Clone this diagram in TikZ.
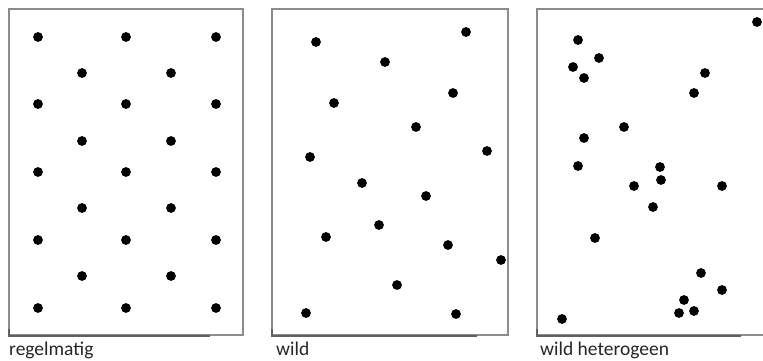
\documentclass[tikz,border=0pt]{standalone}
\usepackage{fontspec}
\setmainfont{Carlito}
\begin{document}
\begin{tikzpicture}[x=1pt,y=-1pt,
  frame/.style={draw=black!45,line width=1.5pt},
  base/.style={draw=black!62,line width=2.2pt},
  dot/.style={fill=black},
  lbl/.style={anchor=base west,inner sep=0pt,font=\fontsize{19.5}{22}\selectfont,text=black!85}]
\clip (0,0) rectangle (763,361);
\fill[white] (0,0) rectangle (763,361);
% frames
\draw[frame] (9,9) rectangle (243,335);
\draw[frame] (272,9) rectangle (508,335);
\draw[frame] (537,9) rectangle (770,335);
% darker base segments
\draw[base] (9,329) -- (9,336) -- (210,336);
\draw[base] (272,329) -- (272,336) -- (477,336);
\draw[base] (537,329) -- (537,336) -- (741,336);
% regular pattern
\foreach \y in {37,104,172,240,308}{
  \foreach \x in {38,126,216}{\fill[dot] (\x,\y) circle (4.9);}}
\foreach \y in {73,141,208,276}{
  \foreach \x in {82,171}{\fill[dot] (\x,\y) circle (4.9);}}
% random pattern
\foreach \x/\y in {316/42,466/32,385/62,453/93,334/103,416/127,487/151,310/157,
  362/183,426/196,379/225,326/237,448/245,501/260,397/285,306/313,456/314}
  {\fill[dot] (\x,\y) circle (4.9);}
% heterogeneous pattern
\foreach \x/\y in {757/22,578/40,599/58,573/67,584/78,705/73,694/93,624/127,
  584/138,578/166,660/167,661/180,634/186,722/186,653/207,595/238,701/273,
  722/290,684/300,679/313,694/311,562/319}
  {\fill[dot] (\x,\y) circle (4.9);}
% labels
\node[lbl] (l1) at (9,355) {regelmatig};
\node[lbl] (l2) at (276,355) {wild};
\node[lbl] (l3) at (540,355) {wild heterogeen};
\end{tikzpicture}
\end{document}
